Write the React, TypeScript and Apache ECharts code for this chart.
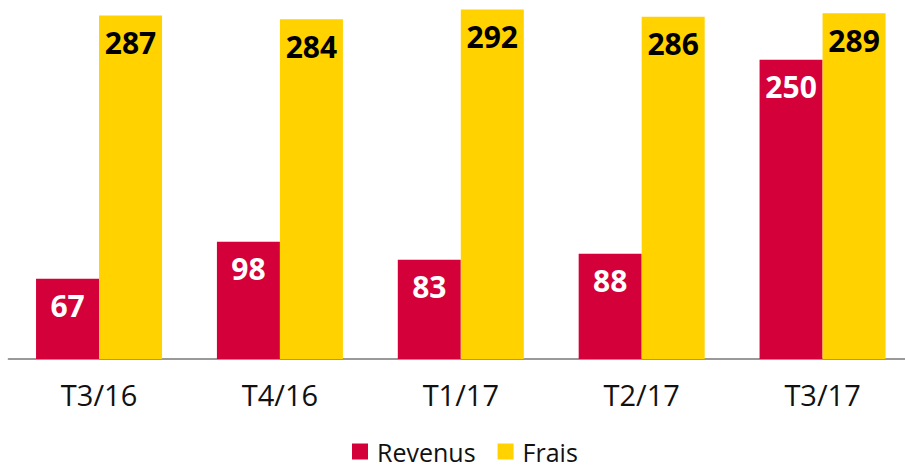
import React, { useEffect, useRef } from "react";
import * as echarts from "echarts";

const categories = ["T3/16", "T4/16", "T1/17", "T2/17", "T3/17"];
const revenus = [67, 98, 83, 88, 250];
const frais = [287, 284, 292, 286, 289];

const RED = "#D4003A";
const YELLOW = "#FFD200";
const FONT = "'Open Sans', 'Noto Sans', sans-serif";

export default function App() {
  const ref = useRef<HTMLDivElement>(null);
  useEffect(() => {
    if (!ref.current) return;
    const chart = echarts.init(ref.current, null, { renderer: "svg" });
    const labelCommon = {
      show: true,
      position: "insideTop" as const,
      distance: 12,
      fontFamily: FONT,
      fontWeight: "bold" as const,
      fontSize: 30,
    };
    chart.setOption({
      animation: false,
      grid: { left: 8.6, top: 0, right: 0, bottom: 108, containLabel: false },
      legend: {
        left: 347,
        top: 430,
        itemWidth: 16,
        itemHeight: 16,
        itemGap: 22,
        icon: "rect",
        textStyle: {
          fontFamily: FONT,
          fontSize: 25,
          lineHeight: 25,
          color: "#111",
          padding: [0, 0, 8, 4],
        },
        data: ["Revenus", "Frais"],
      },
      xAxis: {
        type: "category",
        data: categories,
        axisLine: { show: true, lineStyle: { color: "#999", width: 2 } },
        axisTick: { show: false },
        axisLabel: { fontFamily: FONT, fontSize: 29, color: "#111", margin: 21 },
      },
      yAxis: {
        type: "value",
        min: 0,
        max: 300,
        show: false,
        splitLine: { show: false },
      },
      series: [
        {
          name: "Revenus",
          type: "bar",
          data: revenus,
          barWidth: 63,
          barGap: "0%",
          itemStyle: { color: RED },
          label: { ...labelCommon, color: "#fff" },
        },
        {
          name: "Frais",
          type: "bar",
          data: frais,
          barWidth: 63,
          barGap: "0%",
          itemStyle: { color: YELLOW },
          label: { ...labelCommon, color: "#000" },
        },
      ],
    });
    return () => chart.dispose();
  }, []);
  return (
    <div style={{ width: 905, height: 467, position: "absolute", left: 0, top: 0, overflow: "hidden" }}>
      <div ref={ref} style={{ width: 913, height: 467 }} />
    </div>
  );
}
